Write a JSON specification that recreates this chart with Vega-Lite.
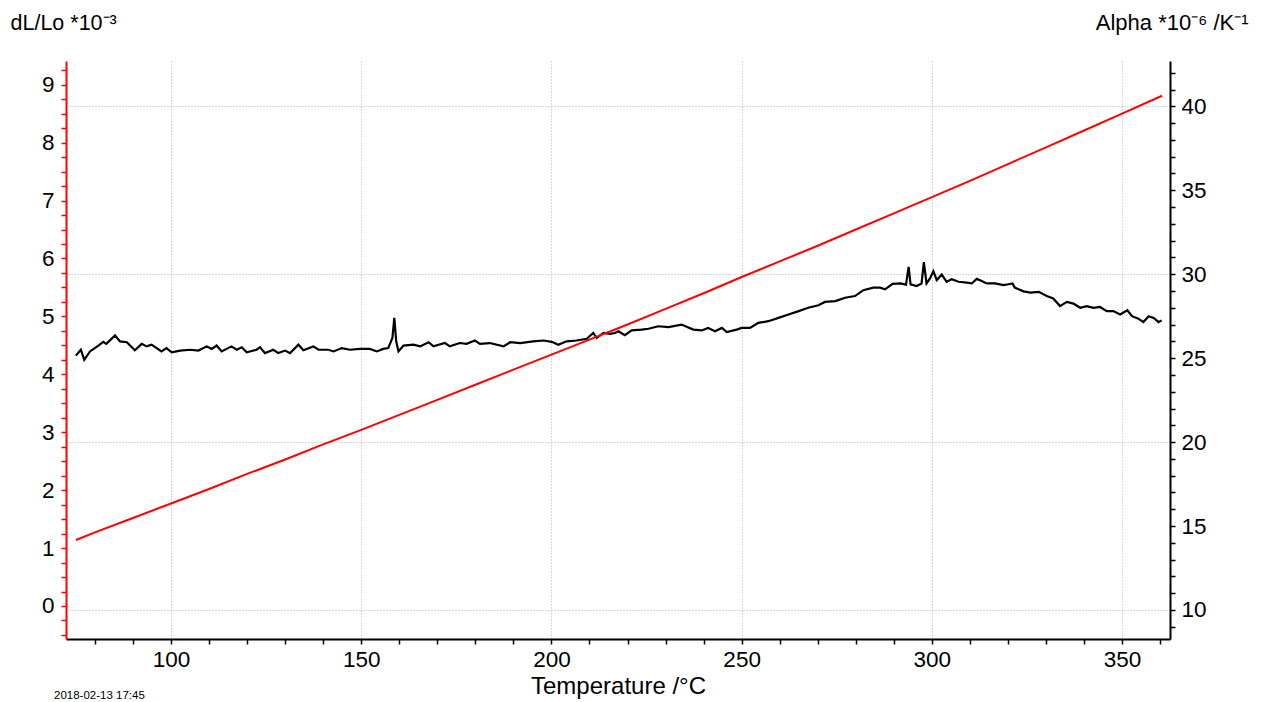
{
  "$schema": "https://vega.github.io/schema/vega-lite/v6.json",
  "width": 1104,
  "height": 578,
  "autosize": {"type": "none"},
  "padding": {"left": 66, "top": 61, "right": 92, "bottom": 63},
  "background": "white",
  "config": {
    "font": "Liberation Sans",
    "view": {"stroke": null},
    "axis": {"labelFont": "Liberation Sans", "titleFont": "Liberation Sans", "labelColor": "black", "titleColor": "black", "titleFontWeight": "normal"}
  },
  "title": {
    "text": "2018-02-13 17:45",
    "orient": "bottom",
    "anchor": "start",
    "frame": "group",
    "fontSize": 11.5,
    "fontWeight": "normal",
    "font": "Liberation Sans",
    "color": "black",
    "dx": -12,
    "dy": -8,
    "offset": 0
  },
  "datasets": {
    "dl": [
      {"T": 75, "v": 1.14}, {"T": 80, "v": 1.27}, {"T": 90, "v": 1.52}, {"T": 100, "v": 1.77},
      {"T": 110, "v": 2.02}, {"T": 120, "v": 2.28}, {"T": 130, "v": 2.53}, {"T": 140, "v": 2.79},
      {"T": 150, "v": 3.04}, {"T": 160, "v": 3.30}, {"T": 170, "v": 3.56}, {"T": 180, "v": 3.82},
      {"T": 190, "v": 4.08}, {"T": 200, "v": 4.34}, {"T": 210, "v": 4.60}, {"T": 220, "v": 4.86},
      {"T": 230, "v": 5.13}, {"T": 240, "v": 5.40}, {"T": 250, "v": 5.68}, {"T": 260, "v": 5.95},
      {"T": 270, "v": 6.22}, {"T": 280, "v": 6.50}, {"T": 290, "v": 6.78}, {"T": 300, "v": 7.06},
      {"T": 310, "v": 7.34}, {"T": 320, "v": 7.63}, {"T": 330, "v": 7.92}, {"T": 340, "v": 8.21},
      {"T": 350, "v": 8.50}, {"T": 360.5, "v": 8.81}
    ],
    "alpha": [
      {"T": 75.0, "a": 25.15}, {"T": 76.3, "a": 25.5}, {"T": 77.2, "a": 24.9}, {"T": 78.7, "a": 25.4},
      {"T": 80.9, "a": 25.75}, {"T": 82.2, "a": 25.97}, {"T": 83.0, "a": 25.85}, {"T": 85.3, "a": 26.35},
      {"T": 86.6, "a": 26.0}, {"T": 88.4, "a": 25.95}, {"T": 90.5, "a": 25.47}, {"T": 92.3, "a": 25.85},
      {"T": 93.6, "a": 25.7}, {"T": 94.9, "a": 25.8}, {"T": 97.5, "a": 25.4}, {"T": 98.8, "a": 25.6},
      {"T": 100.2, "a": 25.35}, {"T": 102.4, "a": 25.45}, {"T": 105.0, "a": 25.5}, {"T": 107.2, "a": 25.45},
      {"T": 109.4, "a": 25.7}, {"T": 110.7, "a": 25.55}, {"T": 112.0, "a": 25.75}, {"T": 113.3, "a": 25.4},
      {"T": 115.9, "a": 25.7}, {"T": 117.3, "a": 25.5}, {"T": 118.6, "a": 25.65}, {"T": 119.9, "a": 25.35},
      {"T": 122.5, "a": 25.5}, {"T": 123.4, "a": 25.65}, {"T": 124.7, "a": 25.3}, {"T": 126.9, "a": 25.5},
      {"T": 128.2, "a": 25.3}, {"T": 130.0, "a": 25.45}, {"T": 131.3, "a": 25.3}, {"T": 133.5, "a": 25.8},
      {"T": 134.8, "a": 25.47}, {"T": 137.4, "a": 25.7}, {"T": 138.8, "a": 25.5}, {"T": 141.4, "a": 25.5},
      {"T": 142.7, "a": 25.4}, {"T": 144.9, "a": 25.6}, {"T": 147.0, "a": 25.5}, {"T": 149.7, "a": 25.55},
      {"T": 152.3, "a": 25.55}, {"T": 154.1, "a": 25.4}, {"T": 155.8, "a": 25.55}, {"T": 157.1, "a": 25.6},
      {"T": 158.2, "a": 26.2}, {"T": 158.7, "a": 27.4}, {"T": 159.2, "a": 26.0}, {"T": 159.8, "a": 25.4},
      {"T": 161.1, "a": 25.75}, {"T": 163.7, "a": 25.8}, {"T": 165.5, "a": 25.7}, {"T": 167.7, "a": 25.95},
      {"T": 169.0, "a": 25.7}, {"T": 172.0, "a": 25.9}, {"T": 173.3, "a": 25.7}, {"T": 175.9, "a": 25.9},
      {"T": 177.7, "a": 25.85}, {"T": 179.9, "a": 26.05}, {"T": 181.2, "a": 25.85}, {"T": 183.8, "a": 25.9},
      {"T": 187.4, "a": 25.7}, {"T": 189.2, "a": 25.95}, {"T": 191.8, "a": 25.9}, {"T": 195.2, "a": 26.0},
      {"T": 197.9, "a": 26.05}, {"T": 200.1, "a": 25.97}, {"T": 201.8, "a": 25.8}, {"T": 204.0, "a": 26.0},
      {"T": 206.6, "a": 26.05}, {"T": 209.3, "a": 26.15}, {"T": 211.0, "a": 26.5}, {"T": 211.9, "a": 26.2},
      {"T": 213.7, "a": 26.5}, {"T": 215.4, "a": 26.45}, {"T": 216.7, "a": 26.5}, {"T": 217.6, "a": 26.6},
      {"T": 219.3, "a": 26.37}, {"T": 221.1, "a": 26.65}, {"T": 223.7, "a": 26.7}, {"T": 225.5, "a": 26.75},
      {"T": 228.1, "a": 26.9}, {"T": 230.8, "a": 26.85}, {"T": 234.2, "a": 27.0}, {"T": 237.3, "a": 26.7},
      {"T": 239.5, "a": 26.65}, {"T": 241.2, "a": 26.8}, {"T": 243.0, "a": 26.6}, {"T": 244.8, "a": 26.8},
      {"T": 246.1, "a": 26.55}, {"T": 248.7, "a": 26.7}, {"T": 250.0, "a": 26.8}, {"T": 252.2, "a": 26.8},
      {"T": 254.4, "a": 27.1}, {"T": 257.0, "a": 27.2}, {"T": 259.7, "a": 27.4}, {"T": 262.3, "a": 27.6},
      {"T": 265.0, "a": 27.8}, {"T": 267.5, "a": 28.0}, {"T": 270.2, "a": 28.15}, {"T": 271.9, "a": 28.35},
      {"T": 274.6, "a": 28.4}, {"T": 277.2, "a": 28.6}, {"T": 279.8, "a": 28.7}, {"T": 282.0, "a": 29.05},
      {"T": 284.6, "a": 29.2}, {"T": 286.4, "a": 29.2}, {"T": 287.7, "a": 29.1}, {"T": 289.7, "a": 29.42},
      {"T": 291.7, "a": 29.45}, {"T": 293.2, "a": 29.38}, {"T": 293.9, "a": 30.44}, {"T": 294.4, "a": 29.4},
      {"T": 296.0, "a": 29.3}, {"T": 297.3, "a": 29.45}, {"T": 297.9, "a": 30.72}, {"T": 298.6, "a": 29.45},
      {"T": 299.5, "a": 29.75}, {"T": 300.4, "a": 30.18}, {"T": 301.3, "a": 29.65}, {"T": 302.6, "a": 29.98},
      {"T": 303.9, "a": 29.55}, {"T": 305.2, "a": 29.7}, {"T": 307.0, "a": 29.55}, {"T": 309.2, "a": 29.5},
      {"T": 310.5, "a": 29.45}, {"T": 311.8, "a": 29.72}, {"T": 313.1, "a": 29.6}, {"T": 314.4, "a": 29.45},
      {"T": 316.6, "a": 29.45}, {"T": 318.8, "a": 29.35}, {"T": 320.1, "a": 29.4}, {"T": 321.2, "a": 29.45},
      {"T": 321.8, "a": 29.2}, {"T": 324.1, "a": 28.98}, {"T": 325.9, "a": 28.9}, {"T": 328.1, "a": 28.95},
      {"T": 330.2, "a": 28.7}, {"T": 331.9, "a": 28.55}, {"T": 333.7, "a": 28.1}, {"T": 335.5, "a": 28.35},
      {"T": 337.2, "a": 28.25}, {"T": 339.0, "a": 28.0}, {"T": 340.7, "a": 28.1}, {"T": 342.5, "a": 28.0},
      {"T": 344.2, "a": 28.05}, {"T": 346.0, "a": 27.8}, {"T": 347.7, "a": 27.8}, {"T": 349.5, "a": 27.6},
      {"T": 351.4, "a": 27.85}, {"T": 352.6, "a": 27.5}, {"T": 354.3, "a": 27.35}, {"T": 355.6, "a": 27.15},
      {"T": 357.0, "a": 27.5}, {"T": 358.3, "a": 27.4}, {"T": 359.6, "a": 27.15}, {"T": 360.4, "a": 27.25}
    ]
  },
  "encoding": {
    "x": {
      "field": "T",
      "type": "quantitative",
      "scale": {"domain": [72.4, 362.6], "nice": false, "zero": false},
      "axis": {
        "values": [80, 90, 100, 110, 120, 130, 140, 150, 160, 170, 180, 190, 200, 210, 220, 230, 240, 250, 260, 270, 280, 290, 300, 310, 320, 330, 340, 350, 360],
        "format": "d",
        "labelExpr": "datum.value % 50 === 0 ? datum.label : ''",
        "labelOverlap": false,
        "labelFontSize": 22.5,
        "labelPadding": 4,
        "domainColor": "black",
        "domainWidth": 2,
        "tickColor": "black",
        "tickWidth": 1.5,
        "tickSize": 5,
        "grid": true,
        "gridColor": "#b0b0b0",
        "gridDash": [1, 2],
        "gridWidth": 1,
        "gridOpacity": {"condition": {"test": "datum.value % 50 === 0", "value": 1}, "value": 0},
        "title": "Temperature /°C",
        "titleFontSize": 24,
        "titleBaseline": "alphabetic",
        "titleY": 54
      }
    }
  },
  "layer": [
    {
      "data": {"name": "alpha"},
      "mark": {"type": "line", "color": "black", "strokeWidth": 2.2},
      "encoding": {
        "y": {
          "field": "a",
          "type": "quantitative",
          "scale": {"domain": [8.27, 42.7], "nice": false, "zero": false},
          "axis": {
            "orient": "right",
            "values": [9, 10, 11, 12, 13, 14, 15, 16, 17, 18, 19, 20, 21, 22, 23, 24, 25, 26, 27, 28, 29, 30, 31, 32, 33, 34, 35, 36, 37, 38, 39, 40, 41, 42],
            "format": "d",
            "labelExpr": "datum.value % 5 === 0 ? datum.label : ''",
            "labelOverlap": false,
            "labelFontSize": 22.5,
            "labelPadding": 6,
            "domainColor": "black",
            "domainWidth": 2,
            "tickColor": "black",
            "tickWidth": 1.5,
            "tickSize": 5,
            "grid": true,
            "gridColor": "#b0b0b0",
            "gridDash": [1, 2],
            "gridWidth": 1,
            "gridOpacity": {"condition": {"test": "datum.value % 10 === 0", "value": 1}, "value": 0},
            "title": "Alpha *10⁻⁶ /K⁻¹",
            "titleFontSize": 22,
            "titleAngle": 0,
            "titleAlign": "right",
            "titleBaseline": "alphabetic",
            "titleX": 78,
            "titleY": -32
          }
        }
      }
    },
    {
      "data": {"name": "dl"},
      "mark": {"type": "line", "color": "#ff0000", "strokeWidth": 2},
      "encoding": {
        "y": {
          "field": "v",
          "type": "quantitative",
          "scale": {"domain": [-0.57, 9.41], "nice": false, "zero": false},
          "axis": {
            "orient": "left",
            "values": [-0.5, -0.25, 0, 0.25, 0.5, 0.75, 1, 1.25, 1.5, 1.75, 2, 2.25, 2.5, 2.75, 3, 3.25, 3.5, 3.75, 4, 4.25, 4.5, 4.75, 5, 5.25, 5.5, 5.75, 6, 6.25, 6.5, 6.75, 7, 7.25, 7.5, 7.75, 8, 8.25, 8.5, 8.75, 9, 9.25],
            "format": "~g",
            "labelExpr": "datum.value % 1 === 0 ? datum.label : ''",
            "labelOverlap": false,
            "labelFontSize": 22.5,
            "labelPadding": 7,
            "domainColor": "#ff0000",
            "domainWidth": 2,
            "tickColor": "#ff0000",
            "tickWidth": 1.5,
            "tickSize": 5,
            "grid": false,
            "title": "dL/Lo *10⁻³",
            "titleFontSize": 21.5,
            "titleAngle": 0,
            "titleAlign": "left",
            "titleBaseline": "alphabetic",
            "titleX": -56,
            "titleY": -32
          }
        }
      }
    }
  ],
  "resolve": {"scale": {"y": "independent"}}
}
